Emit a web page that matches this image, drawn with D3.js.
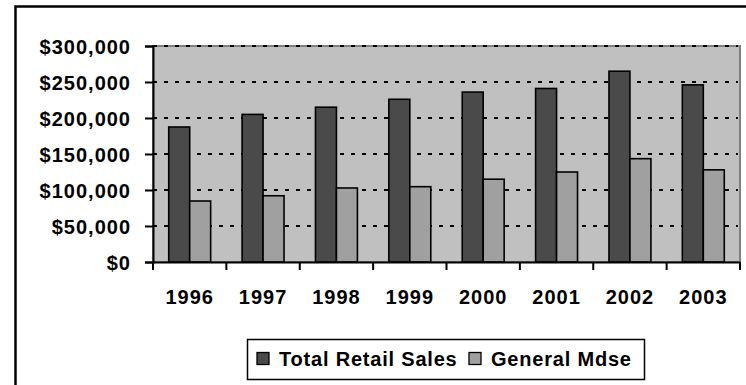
<!DOCTYPE html>
<html>
<head>
<meta charset="utf-8">
<script src="https://cdn.jsdelivr.net/npm/d3@7"></script>
<style>
  html, body { margin: 0; padding: 0; background: #fff; }
  svg { display: block; }
  text { font-family: "Liberation Sans", Arial, sans-serif; font-weight: bold; fill: #000; }
</style>
</head>
<body>
<svg id="chart" width="746" height="385"></svg>
<script>
// Annual sales, in millions of dollars
const years = ["1996", "1997", "1998", "1999", "2000", "2001", "2002", "2003"];
const totalRetail = [187500, 205000, 215000, 226000, 236000, 241000, 265000, 246000];
const generalMdse = [84700, 92000, 102800, 104600, 115000, 125000, 143500, 128000];
const seriesNames = ["Total Retail Sales", "General Mdse"];
const seriesColors = ["#4a4a4a", "#a0a0a0"];
const yTicks = [0, 50000, 100000, 150000, 200000, 250000, 300000];

const svg = d3.select("#chart");

// Chart frame (extends past the visible window on the right and bottom)
svg.append("rect")
  .attr("x", 15.5).attr("y", 6.5)
  .attr("width", 900).attr("height", 600)
  .attr("fill", "#fff").attr("stroke", "#000").attr("stroke-width", 2.5);

const plot = { left: 153, top: 46, right: 740, bottom: 262 };

const x = d3.scaleBand().domain(years).range([plot.left, plot.right]).padding(0);
const y = d3.scaleLinear().domain([0, 300000]).range([plot.bottom, plot.top]);

// Bars are 1/3.5 of a category, leaving a 150% gap split evenly on both sides
const sub = d3.scaleBand().domain([0, 1])
  .range([x.bandwidth() * 0.75 / 3.5, x.bandwidth() * 2.75 / 3.5]).padding(0);

// Plot area background
svg.append("rect")
  .attr("x", plot.left).attr("y", plot.top)
  .attr("width", plot.right - plot.left).attr("height", plot.bottom - plot.top)
  .attr("fill", "#c0c0c0").attr("stroke", "#808080").attr("stroke-width", 2);

// Dashed gridlines
svg.append("g")
  .selectAll("line")
  .data(yTicks.filter(d => d > 0))
  .join("line")
  .attr("x1", plot.left).attr("x2", plot.right - 2)
  .attr("y1", d => y(d)).attr("y2", d => y(d))
  .attr("stroke", "#000").attr("stroke-width", 2)
  .attr("stroke-dasharray", "4 7");

// Bars
const series = [totalRetail, generalMdse];
const groups = svg.append("g").selectAll("g")
  .data(years)
  .join("g")
  .attr("transform", d => `translate(${x(d)},0)`);

groups.selectAll("rect")
  .data((d, i) => series.map((s, k) => ({ k, v: s[i] })))
  .join("rect")
  .attr("x", d => sub(d.k))
  .attr("width", sub.bandwidth())
  .attr("y", d => y(d.v))
  .attr("height", d => y(0) - y(d.v))
  .attr("fill", d => seriesColors[d.k])
  .attr("stroke", "#000").attr("stroke-width", 1.6);

// Y axis
const yAxis = d3.axisLeft(y)
  .tickValues(yTicks)
  .tickSize(8)
  .tickPadding(13)
  .tickFormat(d => "$" + d3.format(",")(d));
const gy = svg.append("g").attr("transform", `translate(${plot.left},0)`).call(yAxis);
gy.select(".domain").attr("stroke", "#000").attr("stroke-width", 2);
gy.selectAll(".tick line").attr("stroke", "#000").attr("stroke-width", 2);
gy.selectAll(".tick text")
  .style("font-size", "20px").style("letter-spacing", "1px")
  .attr("dy", "0.36em").attr("x", -22)
  .attr("font-family", null);

// X axis: ticks sit on category boundaries
const xAxis = d3.axisBottom(x).tickSize(0).tickPadding(0);
const gx = svg.append("g").attr("transform", `translate(0,${plot.bottom})`).call(xAxis);
gx.select(".domain").attr("stroke", "#000").attr("stroke-width", 2);
gx.selectAll(".tick text")
  .style("font-size", "20px").style("letter-spacing", "1px")
  .attr("y", 42).attr("dy", 0)
  .attr("font-family", null);
gx.append("g").selectAll("line")
  .data(years.map(d => x(d)).concat([plot.right]))
  .join("line")
  .attr("x1", d => d).attr("x2", d => d)
  .attr("y1", 0).attr("y2", 8)
  .attr("stroke", "#000").attr("stroke-width", 2);

// Legend
const legend = svg.append("g");
legend.append("rect")
  .attr("x", 247.5).attr("y", 339.5).attr("width", 397).attr("height", 40)
  .attr("fill", "#fff").attr("stroke", "#000").attr("stroke-width", 1.5);
const legendItems = [
  { swatchX: 257, textX: 279 },
  { swatchX: 469, textX: 491 }
];
legend.selectAll("g.item")
  .data(seriesNames)
  .join("g")
  .attr("class", "item")
  .each(function (name, i) {
    const g = d3.select(this);
    g.append("rect")
      .attr("x", legendItems[i].swatchX).attr("y", 352.5)
      .attr("width", 12).attr("height", 12)
      .attr("fill", seriesColors[i]).attr("stroke", "#000").attr("stroke-width", 1.3);
    g.append("text")
      .attr("x", legendItems[i].textX).attr("y", 366)
      .style("font-size", "20px").style("letter-spacing", "0.8px")
      .text(name);
  });
</script>
</body>
</html>
